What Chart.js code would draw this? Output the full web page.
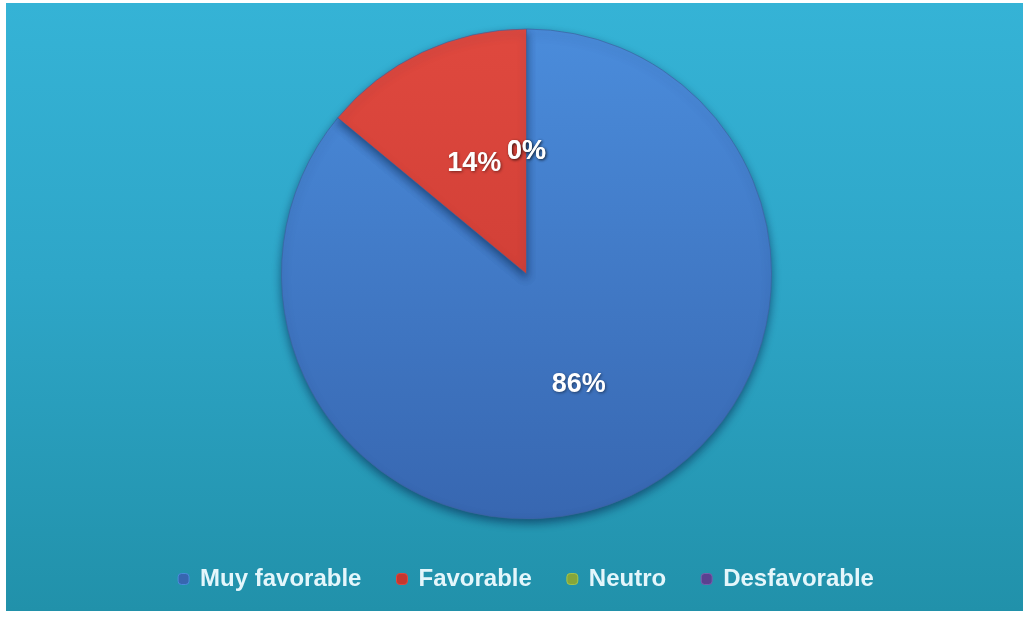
<!DOCTYPE html>
<html lang="es">
<head>
<meta charset="utf-8">
<title>Opinión</title>
<script src="https://cdn.jsdelivr.net/npm/chart.js@4/dist/chart.umd.min.js"></script>
<style>
  html, body { margin: 0; padding: 0; background: #ffffff; }
  #panel {
    position: absolute;
    left: 6px; top: 3px;
    width: 1017px; height: 608px;
    background: linear-gradient(to bottom, #35b3d6 0%, #2ea6c8 45%, #2191aa 100%);
  }
  #grafico { display: block; }
</style>
</head>
<body>
<div id="panel"><canvas id="grafico" width="1017" height="608"></canvas></div>
<script>
// Categorías y porcentajes de la encuesta
const categorias = ['Muy favorable', 'Favorable', 'Neutro', 'Desfavorable'];
const porcentajes = [86, 14, 0, 0];
const etiquetas = ['86%', '14%', '0%', '0%'];

// Colores base de cada porción (claro arriba, oscuro abajo)
const coloresClaros = ['#4b8ddc', '#e0493f', '#a6c64a', '#7a5fae'];
const coloresOscuros = ['#3766b0', '#c4372f', '#86a63a', '#5a4190'];

function degradado(context) {
    const chart = context.chart;
    const area = chart.chartArea;
    if (!area) return coloresClaros[context.dataIndex];
    const g = chart.ctx.createLinearGradient(0, area.top, 0, area.bottom);
    g.addColorStop(0, coloresClaros[context.dataIndex]);
    g.addColorStop(1, coloresOscuros[context.dataIndex]);
    return g;
}

// Sombra oscura alrededor del pastel
const sombraPastel = {
    id: 'sombraPastel',
    beforeDatasetDraw(chart) {
        const ctx = chart.ctx;
        ctx.save();
        ctx.shadowColor = 'rgba(10, 40, 80, 0.6)';
        ctx.shadowBlur = 9;
        ctx.shadowOffsetY = 4;
    },
    afterDatasetDraw(chart) {
        chart.ctx.restore();
    }
};

// Porcentajes escritos sobre cada porción
const textoPorciones = {
    id: 'textoPorciones',
    afterDatasetsDraw(chart) {
        const ctx = chart.ctx;
        const meta = chart.getDatasetMeta(0);
        ctx.save();
        ctx.font = 'bold 27px "Liberation Sans", Arial, sans-serif';
        ctx.textAlign = 'center';
        ctx.textBaseline = 'middle';
        ctx.fillStyle = '#ffffff';
        ctx.shadowColor = 'rgba(0, 0, 0, 0.45)';
        ctx.shadowBlur = 3;
        ctx.shadowOffsetX = 1;
        ctx.shadowOffsetY = 1;
        meta.data.forEach((arc, i) => {
            const pos = arc.tooltipPosition();
            ctx.fillText(etiquetas[i], pos.x, pos.y);
        });
        ctx.restore();
    }
};

new Chart(document.getElementById('grafico'), {
    type: 'pie',
    data: {
        labels: categorias,
        datasets: [{
            data: porcentajes,
            backgroundColor: degradado,
            borderColor: 'rgba(60, 100, 160, 0.7)',
            borderWidth: 1,
            radius: 245
        }]
    },
    options: {
        responsive: false,
        animation: false,
        layout: { padding: { top: 14, bottom: 10, left: 24 } },
        plugins: {
            tooltip: { enabled: false },
            legend: {
                position: 'bottom',
                labels: {
                    color: '#e4f6fb',
                    font: { family: '"Liberation Sans", Arial, sans-serif', size: 24, weight: 'bold' },
                    usePointStyle: true,
                    pointStyle: 'rectRounded',
                    boxWidth: 9,
                    boxHeight: 9,
                    padding: 36,
                    generateLabels(chart) {
                        return categorias.map((c, i) => ({
                            text: c,
                            fillStyle: coloresOscuros[i],
                            strokeStyle: coloresClaros[i],
                            lineWidth: 1,
                            pointStyle: 'rectRounded',
                            fontColor: '#e4f6fb',
                            hidden: false,
                            index: i
                        }));
                    }
                }
            }
        }
    },
    plugins: [sombraPastel, textoPorciones]
});
</script>
</body>
</html>
